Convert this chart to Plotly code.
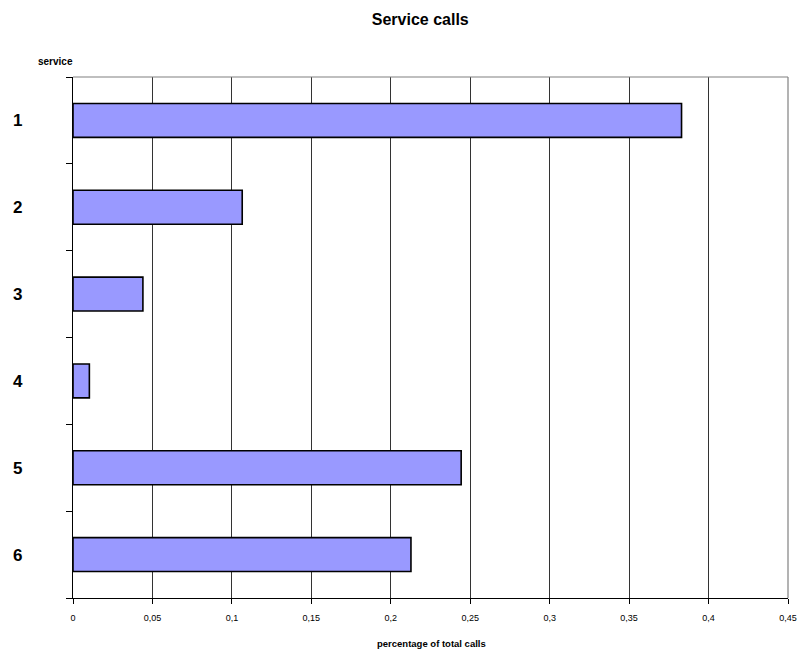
import plotly.graph_objects as go

categories = ["1", "2", "3", "4", "5", "6"]
values = [0.383, 0.1065, 0.044, 0.0103, 0.2443, 0.2127]
x_ticks = [0, 0.05, 0.1, 0.15, 0.2, 0.25, 0.3, 0.35, 0.4, 0.45]
x_tick_labels = ["0", "0,05", "0,1", "0,15", "0,2", "0,25", "0,3", "0,35", "0,4", "0,45"]

FONT = "Liberation Sans, Arial, sans-serif"

fig = go.Figure(go.Bar(
    x=values, y=categories, orientation="h",
    marker=dict(color="#9999FF", line=dict(color="black", width=1.6)),
    width=0.39,
))

fig.update_layout(
    width=799, height=654,
    margin=dict(l=73, r=11, t=77, b=56),
    paper_bgcolor="white", plot_bgcolor="white",
    font=dict(family=FONT, color="black"),
    showlegend=False,
    title=dict(text="<b>Service calls</b>", x=0.526, xanchor="center", y=0.97, yanchor="middle",
               font=dict(size=16, family=FONT, color="black")),
    xaxis=dict(
        range=[0, 0.45], tickvals=x_ticks, ticktext=x_tick_labels,
        showgrid=True, gridcolor="#333333", gridwidth=1,
        showline=True, linecolor="black", linewidth=1.2,
        ticks="outside", ticklen=5, tickcolor="black",
        tickfont=dict(size=9, family=FONT),
        ticklabelstandoff=6,
        zeroline=False, automargin=False,
    ),
    yaxis=dict(
        type="category", autorange="reversed",
        categoryorder="array", categoryarray=categories,
        tickson="boundaries", ticks="outside", ticklen=6, tickcolor="black",
        showline=True, linecolor="black", linewidth=1.2,
        showgrid=False, automargin=False,
        tickfont=dict(size=17, family=FONT),
        ticklabelstandoff=46,
    ),
    shapes=[
        dict(type="line", xref="x domain", yref="y domain", x0=0, x1=1, y0=1, y1=1,
             line=dict(color="#808080", width=1.2)),
        dict(type="line", xref="x domain", yref="y domain", x0=1, x1=1, y0=0, y1=1,
             line=dict(color="#808080", width=1.2)),
    ],
    annotations=[
        dict(text="<b>service</b>", xref="paper", yref="paper", x=-0.024, y=1.029,
             xanchor="center", yanchor="middle", showarrow=False,
             font=dict(size=10, family=FONT)),
        dict(text="<b>percentage of total calls</b>", xref="paper", yref="paper", x=0.501, y=-0.0864,
             xanchor="center", yanchor="middle", showarrow=False,
             font=dict(size=9.5, family=FONT)),
    ],
)

fig.update_yaxes(ticktext=["<b>%s</b>" % c for c in categories], tickvals=categories)

fig.write_html("out.html", config={"displayModeBar": False},
               post_script="document.body.style.margin='0';")
